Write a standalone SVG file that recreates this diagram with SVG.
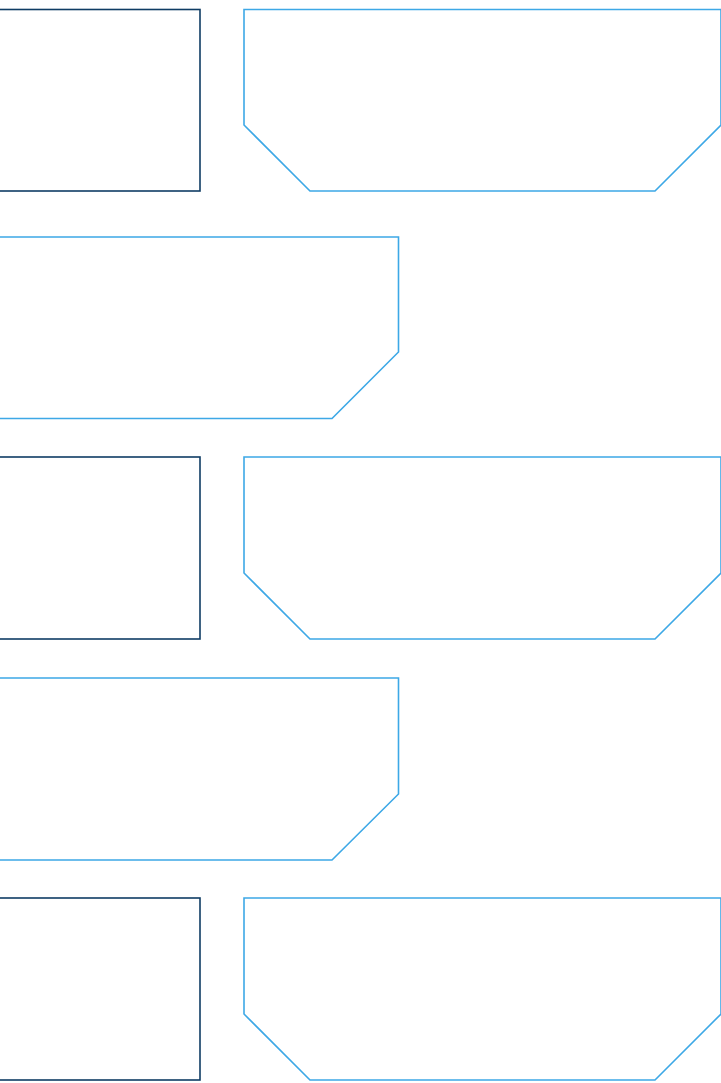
<svg xmlns="http://www.w3.org/2000/svg" width="721" height="1083" viewBox="0 0 721 1083">
<style>
.dark{fill:#ffffff;stroke:#0f3c64;stroke-width:1.6}
.blue{fill:#ffffff;stroke:#3da8e6;stroke-width:1.6}
</style>
<rect x="0" y="0" width="721" height="1083" fill="#ffffff"/>
<g id="node-a1"><rect class="dark" x="-10" y="9.5" width="210" height="181.5"/></g>
<g id="node-a2"><polygon class="blue" points="244,9.5 721,9.5 721,125 655,191 310,191 244,125"/></g>
<g id="node-b"><polygon class="blue" points="-10,237 398.5,237 398.5,352 332,418.5 -10,418.5"/></g>
<g id="node-c1"><rect class="dark" x="-10" y="457" width="210" height="182"/></g>
<g id="node-c2"><polygon class="blue" points="244,457 721,457 721,573 655,639 310,639 244,573"/></g>
<g id="node-d"><polygon class="blue" points="-10,678 398.5,678 398.5,794 332,860 -10,860"/></g>
<g id="node-e1"><rect class="dark" x="-10" y="898" width="210" height="182"/></g>
<g id="node-e2"><polygon class="blue" points="244,898 721,898 721,1014 655,1080 310,1080 244,1014"/></g>
<g id="connectors"></g>
</svg>
